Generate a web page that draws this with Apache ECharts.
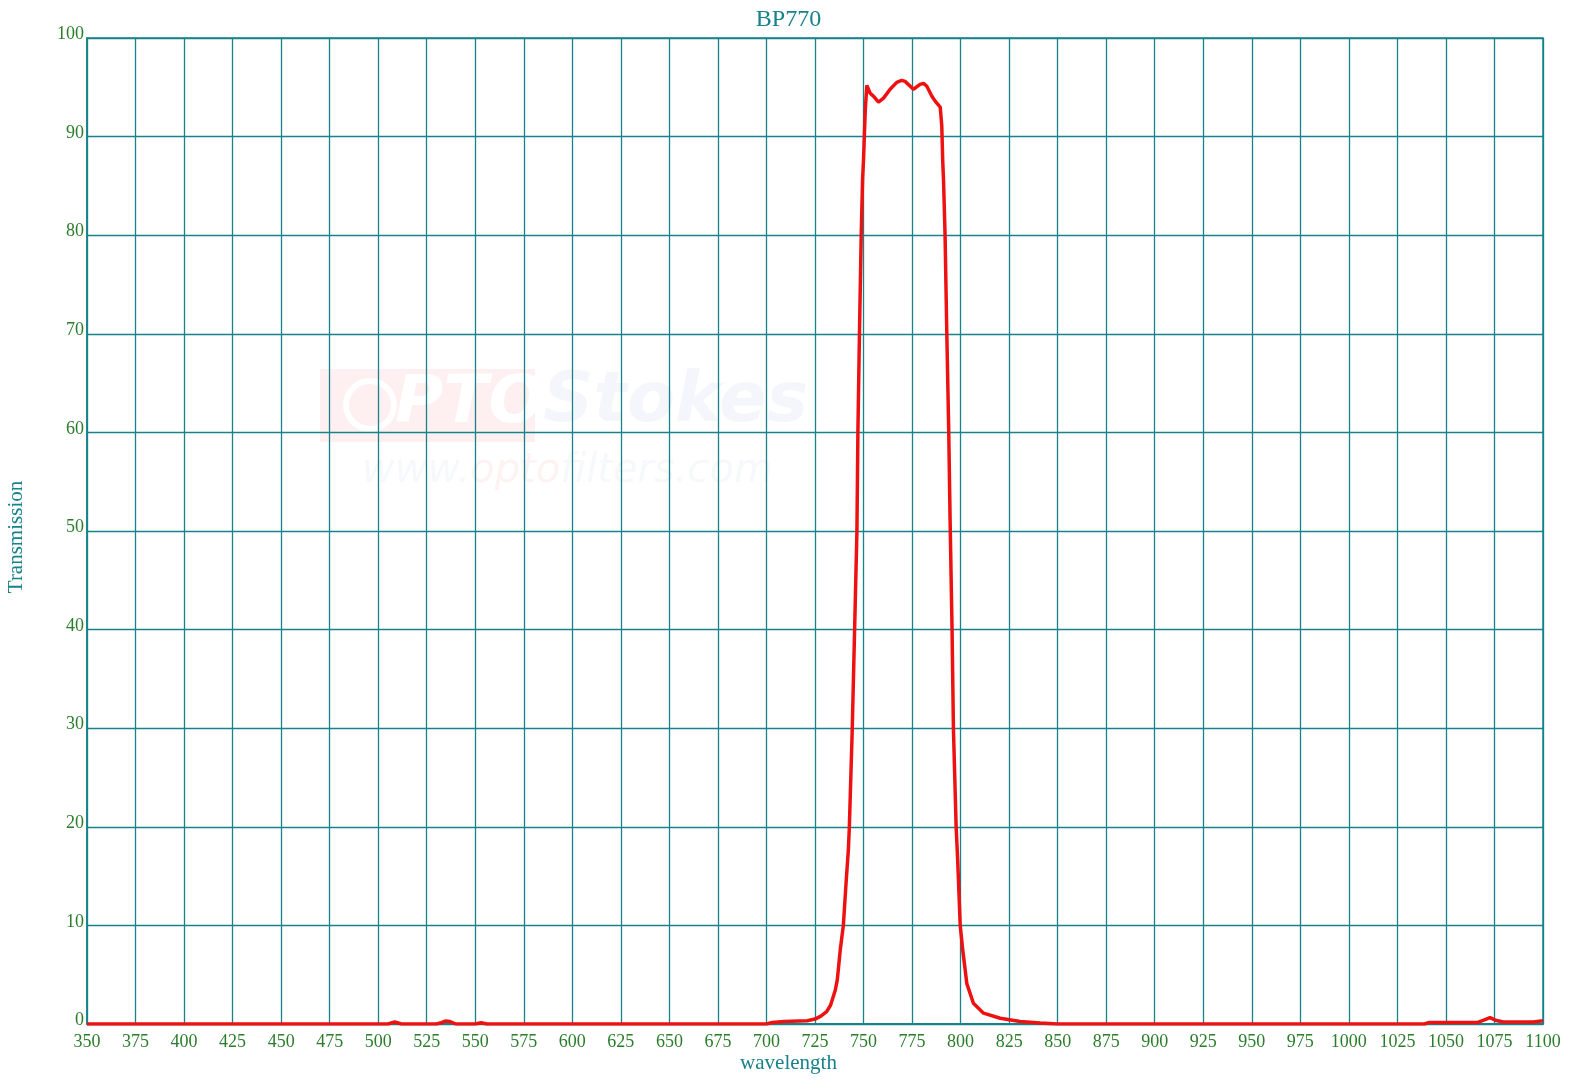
<!DOCTYPE html>
<html>
<head>
<meta charset="utf-8">
<script src="https://cdn.jsdelivr.net/npm/echarts@6/dist/echarts.min.js"></script>
<style>
html,body{margin:0;padding:0;background:#ffffff;}
#chart{width:1577px;height:1088px;}
</style>
</head>
<body>
<div id="chart"></div>
<script>
const chartTitle = 'BP770';
const xName = 'wavelength';
const yName = 'Transmission';

const wavelengths = [350, 400, 450, 500, 505, 508.5, 512, 530, 532, 534.5, 537, 540, 550, 553, 556, 600, 650, 700, 703, 709, 721, 725, 728, 731, 733, 735.4, 736.5, 738, 739.6, 741, 742.2, 742.7, 744.2, 745.4, 746.6, 747.1, 747.9, 748.8, 749.5, 750, 750.9, 751.7, 753.4, 755.1, 757.7, 760.3, 763.7, 767.1, 769.7, 771.4, 775.7, 779.1, 780.9, 782.6, 785.2, 786.9, 789.5, 790.3, 790.8, 791.2, 792, 792.9, 793.9, 794.6, 795.6, 796.3, 797.7, 798.5, 799.8, 801.1, 803.2, 806.6, 811.8, 820.4, 830.7, 841, 850, 900, 950, 1000, 1039, 1041, 1066, 1069.5, 1072.7, 1076, 1079.6, 1095, 1099, 1100];
const transmission = [0, 0, 0, 0, 0, 0.2, 0, 0, 0.1, 0.3, 0.25, 0, 0, 0.12, 0, 0, 0, 0, 0.15, 0.25, 0.33, 0.5, 0.8, 1.25, 1.9, 3.4, 4.5, 7.5, 10, 14.3, 17.7, 20, 30, 40, 50, 60, 70, 80, 85.6, 87.7, 92.7, 95.2, 94.4, 94.1, 93.5, 93.9, 94.8, 95.5, 95.7, 95.6, 94.8, 95.3, 95.4, 95.1, 94.1, 93.6, 93.0, 91.1, 87.5, 85.6, 80, 70, 60, 51, 40, 30, 20, 16.6, 10, 7.5, 4.1, 2.1, 1.1, 0.58, 0.25, 0.1, 0, 0, 0, 0, 0, 0.15, 0.15, 0.4, 0.65, 0.35, 0.2, 0.2, 0.3, 0.3];

const xMin = 350, xMax = 1100, xStep = 25;
const yMin = 0, yMax = 100, yStep = 10;

const teal = '#17828a';
const green = '#2a7d2a';

const chart = echarts.init(document.getElementById('chart'));
chart.setOption({
  backgroundColor: '#ffffff',
  animation: false,
  title: [{
    text: chartTitle,
    left: 'center',
    top: 3,
    textStyle: { color: teal, fontFamily: 'Liberation Serif', fontSize: 24, fontWeight: 'normal' }
  }, {
    text: xName,
    left: 'center',
    top: 1048,
    textStyle: { color: teal, fontFamily: 'Liberation Serif', fontSize: 21, fontWeight: 'normal' }
  }],
  grid: {
    left: 87, right: 34, top: 38, bottom: 64,
    show: true, borderColor: teal, borderWidth: 1.5, backgroundColor: 'transparent'
  },
  graphic: [
    { type: 'rect', z: 0, shape: { x: 320, y: 369, width: 215, height: 73 }, style: { fill: 'rgba(240,90,90,0.09)' } },
    { type: 'text', z: 0, left: 395, top: 372, style: { text: 'PTO', fill: 'rgba(255,255,255,0.95)', font: 'italic bold 66px "DejaVu Sans"' } },
    { type: 'circle', z: 0, shape: { cx: 370, cy: 405, r: 24 }, style: { fill: 'none', stroke: 'rgba(255,255,255,0.95)', lineWidth: 6 } },
    { type: 'text', z: 0, left: 543, top: 368, style: { text: 'Stokes', fill: 'rgba(110,130,200,0.07)', font: 'italic bold 70px "DejaVu Sans"' } },
    { type: 'text', z: 0, left: 362, top: 452, style: { rich: { a: { fill: 'rgba(110,130,200,0.06)', font: 'italic 40px "DejaVu Sans"' }, b: { fill: 'rgba(240,90,90,0.08)', font: 'italic 40px "DejaVu Sans"' } }, text: '{a|www.}{b|opto}{a|filters.com}' } },
    { type: 'text', z: 10, x: 16, y: 537, rotation: Math.PI / 2, style: { text: yName, fill: teal, font: '21px "Liberation Serif"', textAlign: 'center', textVerticalAlign: 'middle' } }
  ],
  xAxis: {
    type: 'value', min: xMin, max: xMax, interval: xStep,
    axisLine: { show: true, lineStyle: { color: teal, width: 2 } },
    axisTick: { show: false },
    axisLabel: { color: green, fontFamily: 'Liberation Serif', fontSize: 18, margin: 9, formatter: v => String(v) },
    splitLine: { show: true, lineStyle: { color: teal, width: 1.3 } }
  },
  yAxis: {
    type: 'value', min: yMin, max: yMax, interval: yStep,
    axisLine: { show: true, lineStyle: { color: teal, width: 1.5 } },
    axisTick: { show: false },
    axisLabel: { color: green, fontFamily: 'Liberation Serif', fontSize: 18, margin: 3, verticalAlign: 'bottom', lineHeight: 7, formatter: v => String(v) },
    splitLine: { show: true, lineStyle: { color: teal, width: 1.3 } }
  },
  series: [{
    type: 'line',
    data: wavelengths.map((w, i) => [w, transmission[i]]),
    showSymbol: false,
    smooth: false,
    lineStyle: { color: '#ee1111', width: 3.5 },
    z: 5
  }]
});
</script>
</body>
</html>
